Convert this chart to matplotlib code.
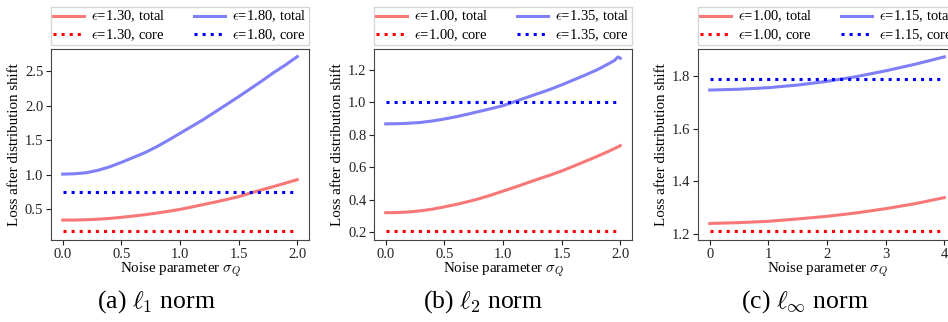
import numpy as np
import matplotlib.pyplot as plt

plt.rcParams['font.family'] = ['Liberation Serif', 'DejaVu Serif']
plt.rcParams['mathtext.fontset'] = 'cm'

# (a) l1 norm
x_a = [0.0, 0.1, 0.2, 0.3, 0.4, 0.5, 0.6, 0.7, 0.8, 0.9, 1.0,
       1.1, 1.2, 1.3, 1.4, 1.5, 1.6, 1.7, 1.8, 1.9, 2.0]
lo_total_a = [0.345, 0.346, 0.350, 0.358, 0.369, 0.385, 0.403, 0.423, 0.446, 0.472, 0.500,
              0.534, 0.570, 0.606, 0.644, 0.684, 0.736, 0.784, 0.831, 0.880, 0.930]
hi_total_a = [1.010, 1.015, 1.030, 1.065, 1.115, 1.180, 1.250, 1.320, 1.405, 1.500, 1.600,
              1.700, 1.800, 1.910, 2.020, 2.130, 2.245, 2.360, 2.480, 2.590, 2.710]
lo_core_a = 0.187
hi_core_a = 0.745
eps_a = ['1.30', '1.80']

# (b) l2 norm
x_b = [0.0, 0.1, 0.2, 0.3, 0.4, 0.5, 0.6, 0.7, 0.8, 0.9, 1.0,
       1.1, 1.2, 1.3, 1.4, 1.5, 1.6, 1.7, 1.8, 1.9, 1.95, 1.98, 2.0]
lo_total_b = [0.321, 0.322, 0.326, 0.333, 0.343, 0.357, 0.372, 0.389, 0.408, 0.430, 0.454,
              0.478, 0.503, 0.528, 0.552, 0.578, 0.607, 0.637, 0.667, 0.699, 0.716, 0.726, 0.734]
hi_total_b = [0.868, 0.869, 0.872, 0.877, 0.886, 0.898, 0.912, 0.928, 0.945, 0.962, 0.980,
              1.005, 1.030, 1.055, 1.080, 1.108, 1.138, 1.168, 1.200, 1.238, 1.258, 1.280, 1.272]
lo_core_b = 0.208
hi_core_b = 1.000
eps_b = ['1.00', '1.35']

# (c) l_inf norm
x_c = [0.0, 0.5, 1.0, 1.5, 2.0, 2.5, 3.0, 3.5, 4.0]
lo_total_c = [1.240, 1.243, 1.248, 1.257, 1.267, 1.280, 1.296, 1.315, 1.338]
hi_total_c = [1.747, 1.750, 1.756, 1.766, 1.780, 1.798, 1.820, 1.845, 1.873]
lo_core_c = 1.211
hi_core_c = 1.789
eps_c = ['1.00', '1.15']

panels = [
    (x_a, lo_total_a, hi_total_a, lo_core_a, hi_core_a, eps_a, (0.057, 2.82),
     [0.5, 1.0, 1.5, 2.0, 2.5], [0.0, 0.5, 1.0, 1.5, 2.0], r'(a) $\ell_1$ norm'),
    (x_b, lo_total_b, hi_total_b, lo_core_b, hi_core_b, eps_b, (0.153, 1.329),
     [0.2, 0.4, 0.6, 0.8, 1.0, 1.2], [0.0, 0.5, 1.0, 1.5, 2.0], r'(b) $\ell_2$ norm'),
    (x_c, lo_total_c, hi_total_c, lo_core_c, hi_core_c, eps_c, (1.177, 1.903),
     [1.2, 1.4, 1.6, 1.8], [0, 1, 2, 3, 4], r'(c) $\ell_\infty$ norm'),
]

fig = plt.figure(figsize=(9.48, 3.22), dpi=100)
lefts = [51, 374, 698]
cap_x = [156, 483, 805]
W, H = 948, 322

for i, (xs, lo_t, hi_t, lo_c, hi_c, eps, ylim, yt, xt, cap) in enumerate(panels):
    ax = fig.add_axes([lefts[i] / W, (H - 240) / H, 258 / W, 191 / H])
    ax.plot(xs, lo_t, color='#f87878', lw=2.2, label=r'$\epsilon$=%s, total' % eps[0])
    ax.plot(xs, [lo_c] * len(xs), color='red', lw=2.2, ls=':', label=r'$\epsilon$=%s, core' % eps[0])
    ax.plot(xs, hi_t, color='#7f7ff8', lw=2.2, label=r'$\epsilon$=%s, total' % eps[1])
    ax.plot(xs, [hi_c] * len(xs), color='blue', lw=2.2, ls=':', label=r'$\epsilon$=%s, core' % eps[1])
    ax.set_ylim(*ylim)
    ax.set_yticks(yt)
    ax.set_xticks(xt)
    if i == 2:
        ax.set_yticklabels(['%.1f' % v for v in yt])
        ax.set_xticklabels(['%d' % v for v in xt])
    ax.tick_params(labelsize=10.5, length=3.5, pad=2, colors='#222222')
    for s in ax.spines.values():
        s.set_color('#444444')
    ax.set_xlabel(r'Noise parameter $\sigma_Q$', fontsize=10.8, labelpad=0)
    ax.set_ylabel('Loss after distribution shift', fontsize=10.8, labelpad=3)
    ax.legend(ncol=2, loc='lower left', bbox_to_anchor=(0.0, 1.02, 1.0, 0.22), mode='expand',
              fontsize=10.5, frameon=True, fancybox=False, edgecolor='#cccccc',
              handlelength=2.1, handletextpad=0.5, borderaxespad=0.0, columnspacing=1.0,
              labelspacing=0.2, borderpad=0.15)
    fig.text(cap_x[i] / W, (H - 302) / H, cap, fontsize=18.5, ha='center', va='center')

fig.savefig('out.png', dpi=100)
